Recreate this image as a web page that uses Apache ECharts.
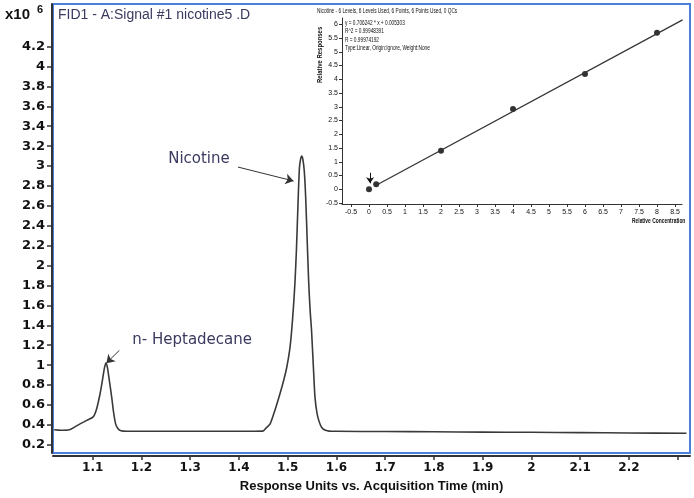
<!DOCTYPE html>
<html><head><meta charset="utf-8">
<script src="https://cdn.jsdelivr.net/npm/echarts@6/dist/echarts.min.js"></script>
<style>html,body{margin:0;padding:0;background:#fff}#c{width:694px;height:498px}</style>
</head><body><div id="c"></div>
<script>
// Chromatogram (time in min, response x10^6)
const timeMin = [1.021,1.035,1.052,1.062,1.074,1.088,1.101,1.108,1.115,1.120,1.124,1.127,1.130,1.134,1.139,1.143,1.147,1.152,1.158,1.170,1.200,1.300,1.400,1.449,1.456,1.464,1.474,1.484,1.492,1.498,1.504,1.508,1.512,1.515,1.518,1.521,1.524,1.5265,1.5287,1.531,1.534,1.537,1.540,1.543,1.546,1.549,1.553,1.556,1.560,1.564,1.569,1.575,1.585,1.600,1.700,1.800,1.900,2.000,2.100,2.200,2.318];
const response = [0.35,0.345,0.35,0.375,0.41,0.445,0.48,0.56,0.71,0.85,0.97,1.02,0.98,0.85,0.676,0.52,0.41,0.36,0.34,0.335,0.335,0.335,0.335,0.337,0.37,0.41,0.55,0.71,0.85,0.976,1.15,1.34,1.6,1.84,2.17,2.6,2.98,3.07,3.1,3.07,2.95,2.67,2.25,1.84,1.55,1.34,0.95,0.676,0.52,0.44,0.38,0.35,0.337,0.335,0.333,0.33,0.327,0.325,0.322,0.318,0.315];
const yTicks = [0.2,0.4,0.6,0.8,1,1.2,1.4,1.6,1.8,2,2.2,2.4,2.6,2.8,3,3.2,3.4,3.6,3.8,4,4.2];
const xTicks = [1.1,1.2,1.3,1.4,1.5,1.6,1.7,1.8,1.9,2,2.1,2.2,2.3];
const xTickLabels = [1.1,1.2,1.3,1.4,1.5,1.6,1.7,1.8,1.9,2,2.1,2.2];
// Peak annotations
const peakNames = ['Nicotine','n- Heptadecane'];
const peakLabelPos = [[1.318,3.07],[1.304,1.255]];
const peakArrowFrom = [[1.398,2.99],[1.1546,1.148]];
const peakArrowTo = [[1.512,2.85],[1.128,1.02]];
// Calibration inset
const calConc = [0,0.2,2,4,6,8];
const calResp = [0,0.18,1.4,2.92,4.19,5.69];
const fitX = [0.2,8.71];
const fitY = [0.147,6.16];
const insetXTicks = [-0.5,0,0.5,1,1.5,2,2.5,3,3.5,4,4.5,5,5.5,6,6.5,7,7.5,8,8.5];
const insetYTicks = [-0.5,0,0.5,1,1.5,2,2.5,3,3.5,4,4.5,5,5.5,6];
const insetArrow = [[0.03,0.6],[0.03,0.22]];

const chart = echarts.init(document.getElementById('c'), null, {renderer:'canvas'});
const tickFont = {fontFamily:'DejaVu Sans', fontWeight:'bold', fontSize:13, color:'#111'};
const small = {fontFamily:'Liberation Sans', fontSize:7, color:'#111'};
const navy = '#3a3a60';
const insetTextStyle = {fontFamily:'Liberation Sans', fontSize:7, fill:'#111'};

chart.setOption({
  animation:false,
  backgroundColor:'#fff',
  grid:[
    {left:53, top:4, width:637, height:452, show:true, borderColor:'#4a7fdc', borderWidth:2, backgroundColor:'#fff'},
    {left:342, top:18, width:340, height:186, show:false}
  ],
  xAxis:[
    {type:'value', gridIndex:0, min:1.01856, max:2.32523, offset:3,
     axisLine:{show:true, onZero:false, lineStyle:{color:'#333', width:2}},
     axisTick:{show:true, customValues:xTicks, length:4, lineStyle:{color:'#333', width:1.5}},
     axisLabel:{customValues:xTickLabels, margin:6, ...tickFont, fontSize:12, formatter:v=>String(v)},
     splitLine:{show:false},
     name:'Response Units vs. Acquisition Time (min)', nameLocation:'middle', nameGap:24,
     nameTextStyle:{fontFamily:'Liberation Sans', fontWeight:'bold', fontSize:13, color:'#111'}},
    {type:'value', gridIndex:1, min:-0.75, max:8.694,
     axisLine:{show:true, onZero:false, lineStyle:{color:'#333', width:1}},
     axisTick:{show:true, customValues:insetXTicks, length:3, lineStyle:{color:'#333'}},
     axisLabel:{customValues:insetXTicks, margin:5, ...small, formatter:v=>String(v)},
     splitLine:{show:false}}
  ],
  yAxis:[
    {type:'value', gridIndex:0, min:0.11717, max:4.6282, offset:1,
     axisLine:{show:true, onZero:false, lineStyle:{color:'#333', width:2}},
     axisTick:{show:true, customValues:yTicks, length:5, lineStyle:{color:'#333', width:1.5}},
     axisLabel:{customValues:yTicks, margin:7, ...tickFont, formatter:v=>String(v)},
     splitLine:{show:false}},
    {type:'value', gridIndex:1, min:-0.5345, max:6.229,
     axisLine:{show:true, onZero:false, lineStyle:{color:'#333', width:1}},
     axisTick:{show:true, customValues:insetYTicks, length:3, lineStyle:{color:'#333'}},
     axisLabel:{customValues:insetYTicks, margin:4, ...small, formatter:v=>String(v)},
     splitLine:{show:false}}
  ],
  series:[
    {type:'line', xAxisIndex:0, yAxisIndex:0, data:timeMin.map((t,i)=>[t,response[i]]),
     showSymbol:false, smooth:0.25, lineStyle:{color:'#3a3a3a', width:1.6},
     markLine:{silent:true, symbol:['none','arrow'], symbolSize:8,
       lineStyle:{color:'#333', width:1, type:'solid'}, label:{show:false},
       data:peakArrowFrom.map((f,i)=>[{coord:f},{coord:peakArrowTo[i]}])},
     markPoint:{silent:true, symbol:'circle', symbolSize:0,
       data:peakNames.map((n,i)=>({coord:peakLabelPos[i], value:n,
         label:{show:true, formatter:n, position:'inside', fontFamily:'DejaVu Sans', fontSize:15, color:navy}}))}
    },
    {type:'line', xAxisIndex:1, yAxisIndex:1, data:fitX.map((x,i)=>[x,fitY[i]]),
     showSymbol:false, lineStyle:{color:'#333', width:1.2}},
    {type:'scatter', xAxisIndex:1, yAxisIndex:1, data:calConc.map((x,i)=>[x,calResp[i]]),
     symbolSize:6, itemStyle:{color:'#000'},
     markLine:{silent:true, symbol:['none','arrow'], symbolSize:6,
       lineStyle:{color:'#111', width:1, type:'solid'}, label:{show:false},
       data:[[{coord:insetArrow[0]},{coord:insetArrow[1]}]]}}
  ],
  graphic:[
    {type:'text', left:5, top:7, style:{text:'x10', fontFamily:'Liberation Sans', fontWeight:'bold', fontSize:15, fill:'#111'}},
    {type:'text', left:37, top:4, style:{text:'6', fontFamily:'Liberation Sans', fontWeight:'bold', fontSize:11, fill:'#111'}},
    {type:'text', left:58, top:8, style:{text:'FID1 - A:Signal #1 nicotine5 .D', fontFamily:'Liberation Sans', fontSize:14, fill:navy}},
    {type:'text', x:317, y:8, scaleX:0.68, style:{text:'Nicotine - 6 Levels, 6 Levels Used, 6 Points, 6 Points Used, 0 QCs', ...insetTextStyle}},
    {type:'text', x:345, y:19.5, scaleX:0.68, style:{text:'y = 0.706242 * x + 0.005303', ...insetTextStyle}},
    {type:'text', x:345, y:28, scaleX:0.68, style:{text:'R^2 = 0.99948391', ...insetTextStyle}},
    {type:'text', x:345, y:36.5, scaleX:0.68, style:{text:'R = 0.99974192', ...insetTextStyle}},
    {type:'text', x:345, y:45, scaleX:0.68, style:{text:'Type:Linear, Origin:Ignore, Weight:None', ...insetTextStyle}},
    {type:'text', x:317, y:83, rotation:Math.PI/2, scaleX:0.85, style:{text:'Relative Responses', ...insetTextStyle, fontWeight:'bold'}},
    {type:'text', x:632, y:218, scaleX:0.7, style:{text:'Relative Concentration', ...insetTextStyle, fontWeight:'bold'}}
  ]
});
</script></body></html>
